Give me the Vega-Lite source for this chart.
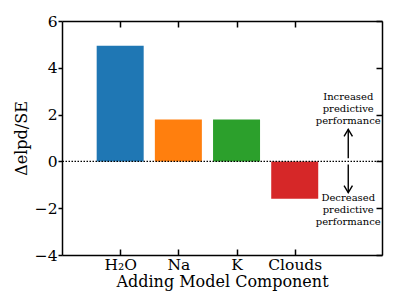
{
  "$schema": "https://vega.github.io/schema/vega-lite/v6.json",
  "width": 320,
  "height": 234,
  "autosize": {"type": "none"},
  "padding": {"left": 62, "top": 21, "right": 17, "bottom": 52},
  "background": "white",
  "config": {
    "view": {"stroke": null},
    "font": "DejaVu Serif",
    "axis": {
      "domainColor": "black",
      "domainWidth": 1.5,
      "tickColor": "black",
      "tickWidth": 1.5,
      "grid": false,
      "labelFont": "DejaVu Serif",
      "labelFontSize": 15.5,
      "labelColor": "black",
      "titleFont": "DejaVu Serif",
      "titleFontSize": 16,
      "titleFontWeight": "normal",
      "titleColor": "black"
    }
  },
  "resolve": {"axis": {"x": "independent", "y": "independent"}},
  "layer": [
    {
      "data": {"values": [
        {"idx": 0, "component": "H₂O", "value": 4.94},
        {"idx": 1, "component": "Na", "value": 1.79},
        {"idx": 2, "component": "K", "value": 1.79},
        {"idx": 3, "component": "Clouds", "value": -1.6}
      ]},
      "mark": {"type": "bar", "size": 47, "orient": "vertical"},
      "encoding": {
        "x": {"field": "idx", "type": "quantitative",
          "scale": {"domain": [-1, 4.5], "nice": false, "zero": false, "padding": 0},
          "axis": {"orient": "bottom", "values": [0, 1, 2, 3], "tickSize": -6, "labelPadding": 8,
            "labelExpr": "['H₂O','Na','K','Clouds'][datum.value]", "title": "Adding Model Component", "titlePadding": 1}},
        "y": {"field": "value", "type": "quantitative",
          "scale": {"domain": [-4, 6], "nice": false, "zero": false, "padding": 0},
          "axis": {"orient": "left", "values": [-4, -2, 0, 2, 4, 6], "tickSize": 4, "labelPadding": 1,
            "title": "Δelpd/SE", "titlePadding": 5}},
        "color": {"field": "component", "type": "nominal",
          "scale": {"domain": ["H₂O", "Na", "K", "Clouds"], "range": ["#1f77b4", "#ff7f0e", "#2ca02c", "#d62728"]},
          "legend": null}
      }
    },
    {
      "data": {"values": [{"zero": 0}]},
      "mark": {"type": "rule", "color": "black", "strokeWidth": 1.2, "strokeDash": [1.5, 1.5]},
      "encoding": {
        "y": {"field": "zero", "type": "quantitative", "scale": {"domain": [-4, 6], "nice": false, "zero": false, "padding": 0}, "axis": null}
      }
    },
    {
      "data": {"values": [
        {"dir": "up", "x": 3.92, "y0": 0.13, "y1": 1.37},
        {"dir": "down", "x": 3.92, "y0": -0.13, "y1": -1.33}
      ]},
      "mark": {"type": "rule", "color": "black", "strokeWidth": 1.4},
      "encoding": {
        "x": {"field": "x", "type": "quantitative", "scale": {"domain": [-1, 4.5], "nice": false, "zero": false, "padding": 0}, "axis": null},
        "y": {"field": "y0", "type": "quantitative", "scale": {"domain": [-4, 6], "nice": false, "zero": false, "padding": 0}, "axis": null},
        "y2": {"field": "y1"}
      }
    },
    {
      "data": {"values": [
        {"dir": "up", "x": 3.92, "y1": 1.37},
        {"dir": "down", "x": 3.92, "y1": -1.33}
      ]},
      "mark": {"type": "point", "filled": false, "stroke": "black", "fill": null, "strokeWidth": 1.4, "opacity": 1, "size": 196},
      "encoding": {
        "x": {"field": "x", "type": "quantitative", "scale": {"domain": [-1, 4.5], "nice": false, "zero": false, "padding": 0}, "axis": null},
        "y": {"field": "y1", "type": "quantitative", "scale": {"domain": [-4, 6], "nice": false, "zero": false, "padding": 0}, "axis": null},
        "shape": {"field": "dir", "type": "nominal",
          "scale": {"domain": ["up", "down"], "range": ["M-0.6,1L0,0L0.6,1", "M-0.6,-1L0,0L0.6,-1"]},
          "legend": null}
      }
    },
    {
      "data": {"values": [
        {"x": 3.92, "y": 2.75, "label": "Increased\npredictive\nperformance"},
        {"x": 3.92, "y": -1.55, "label": "Decreased\npredictive\nperformance"}
      ]},
      "mark": {"type": "text", "fontSize": 10, "font": "DejaVu Serif", "lineBreak": "\n", "lineHeight": 12, "align": "center", "baseline": "middle", "color": "black"},
      "encoding": {
        "x": {"field": "x", "type": "quantitative", "scale": {"domain": [-1, 4.5], "nice": false, "zero": false, "padding": 0},
          "axis": {"orient": "top", "values": [0, 1, 2, 3], "tickSize": -6, "labels": false, "title": null}},
        "y": {"field": "y", "type": "quantitative", "scale": {"domain": [-4, 6], "nice": false, "zero": false, "padding": 0},
          "axis": {"orient": "right", "values": [-4, -2, 0, 2, 4, 6], "tickSize": -6, "labels": false, "title": null}},
        "text": {"field": "label", "type": "nominal"}
      }
    }
  ]
}
